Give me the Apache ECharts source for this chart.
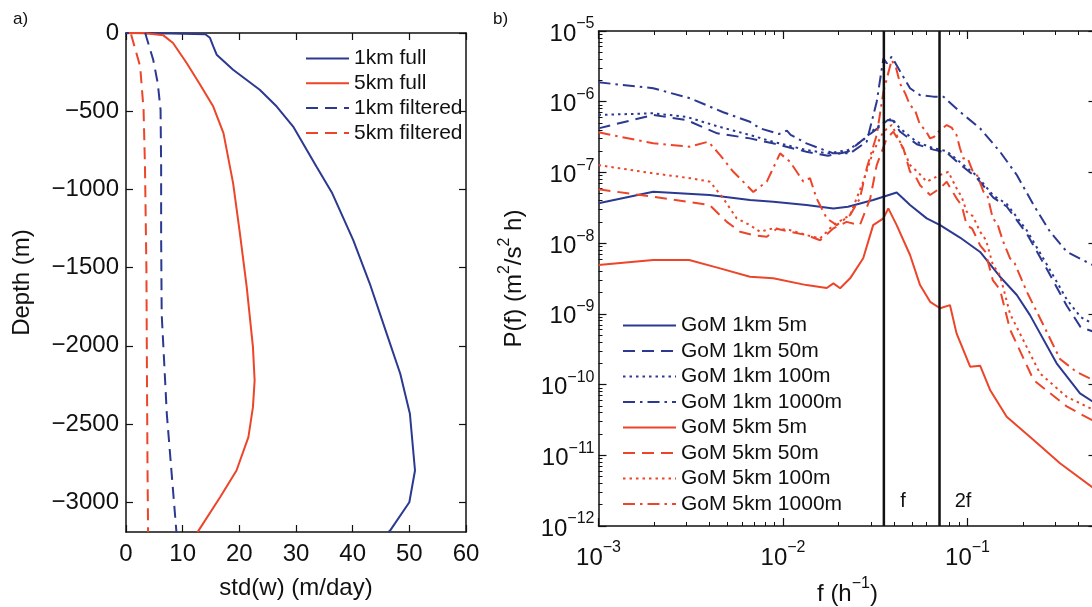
<!DOCTYPE html>
<html><head><meta charset="utf-8">
<script src="https://cdn.jsdelivr.net/npm/echarts@6/dist/echarts.min.js"></script>
<style>html,body{margin:0;padding:0;background:#fff}#c{width:1092px;height:607px}</style>
</head><body><div id="c"></div>
<script>
// ---------- Panel a: std(w) profiles, [std(w) m/day, depth m] ----------
const full1km = [[0,0],[8,-3],[14.0,-8],[14.8,-30],[15.4,-86],[16.0,-139],[18.9,-235],[23.6,-363],[26.6,-470],[29.5,-598],[33.6,-854],[36.4,-1025],[40.1,-1324],[43.0,-1600],[46.0,-1922],[48.4,-2178],[50.1,-2434],[51.0,-2797],[50.0,-3000],[46.6,-3181],[46.3,-3190]];
const full5km = [[0.5,0],[3.1,0],[6.6,-15],[8.3,-64],[10.7,-192],[12.9,-320],[15.4,-470],[17.2,-640],[18.9,-960],[20.1,-1281],[21.3,-1623],[22.4,-2007],[22.7,-2221],[22.4,-2392],[21.6,-2584],[19.5,-2797],[16.6,-2968],[12.8,-3181],[12.6,-3190]];
const filt1km = [[3.4,0],[3.65,-32],[4.8,-171],[5.6,-320],[6.1,-491],[6.2,-854],[6.2,-1300],[6.3,-1800],[6.6,-2007],[7.2,-2434],[8.06,-2818],[8.9,-3190]];
const filt5km = [[0.9,-10],[1.0,-22],[2.5,-214],[3.1,-491],[3.35,-854],[3.6,-1500],[3.7,-2200],[3.8,-2800],[3.9,-3190]];
const depthTicks = [0,-500,-1000,-1500,-2000,-2500,-3000];

// ---------- Panel b: spectra, [f (1/h), P(f)] ----------
const gom1km5m = [[0.001,3.66e-8],[0.00198,5.33e-8],[0.004,4.79e-8],[0.00662,4.07e-8],[0.00885,3.85e-8],[0.0134,3.46e-8],[0.01875,3.1e-8],[0.0225,3.27e-8],[0.0308,4.07e-8],[0.035,4.53e-8],[0.0413,5.2e-8],[0.046,4.0e-8],[0.0488,3.46e-8],[0.0601,2.24e-8],[0.071,1.8e-8],[0.091,1.2e-8],[0.117,7.5e-9],[0.15,3.35e-9],[0.185,1.85e-9],[0.218,9.6e-10],[0.304,2.0e-10],[0.407,7.5e-11],[0.5,5.3e-11]];
const gom1km50m = [[0.001,4.2e-7],[0.00198,6.5e-7],[0.003,5.5e-7],[0.0044,3.57e-7],[0.00662,3.03e-7],[0.0088,2.58e-7],[0.0134,1.96e-7],[0.0175,1.72e-7],[0.0225,1.96e-7],[0.0284,3.2e-7],[0.0325,4.2e-7],[0.037,5.5e-7],[0.0395,5.4e-7],[0.043,3.8e-7],[0.0531,2.5e-7],[0.0653,2.1e-7],[0.0771,1.9e-7],[0.091,1.3e-7],[0.112,8.4e-8],[0.138,4.4e-8],[0.163,3.3e-8],[0.21,1.35e-8],[0.269,4.3e-9],[0.345,1.3e-9],[0.41,6.5e-10],[0.5,5.4e-10]];
const gom1km100m = [[0.001,6.5e-7],[0.00198,6.86e-7],[0.003,6.1e-7],[0.0045,4.43e-7],[0.00662,3.38e-7],[0.0088,2.72e-7],[0.0134,2.07e-7],[0.0175,1.86e-7],[0.0225,2.07e-7],[0.0272,2.87e-7],[0.0315,4.2e-7],[0.035,5.0e-7],[0.0388,5.8e-7],[0.043,4.2e-7],[0.0531,2.7e-7],[0.0653,2.2e-7],[0.0771,2.0e-7],[0.091,1.4e-7],[0.112,9.0e-8],[0.138,4.7e-8],[0.163,3.6e-8],[0.21,1.5e-8],[0.269,5.0e-9],[0.345,1.6e-9],[0.41,9.0e-10],[0.5,6.8e-10]];
const gom1km1000m = [[0.001,1.88e-6],[0.00198,1.55e-6],[0.00313,1.12e-6],[0.00474,7.1e-7],[0.00662,5.2e-7],[0.0075,4.2e-7],[0.0095,3.5e-7],[0.0105,3.9e-7],[0.011,3.4e-7],[0.0134,2.58e-7],[0.0165,2.1e-7],[0.01875,1.86e-7],[0.0231,1.86e-7],[0.0284,2.72e-7],[0.0322,1.0e-6],[0.035,4.11e-6],[0.0365,3.49e-6],[0.0388,4.33e-6],[0.0431,2.7e-6],[0.0488,1.55e-6],[0.0553,1.24e-6],[0.0653,1.18e-6],[0.074,1.18e-6],[0.091,7.2e-7],[0.117,4.2e-7],[0.15,1.96e-7],[0.185,9.2e-8],[0.228,3.46e-8],[0.28,1.45e-8],[0.345,7.55e-9],[0.5,4.6e-9]];
const gom5km5m = [[0.001,4.9e-9],[0.00198,5.77e-9],[0.0031,5.77e-9],[0.00456,4.4e-9],[0.00662,3.35e-9],[0.00885,3.18e-9],[0.0134,2.55e-9],[0.01726,2.32e-9],[0.01875,2.7e-9],[0.0204,2.3e-9],[0.0231,3.18e-9],[0.0272,6.1e-9],[0.0308,1.8e-8],[0.035,2.24e-8],[0.0372,3.1e-8],[0.0413,1.8e-8],[0.0488,6.8e-9],[0.0553,2.55e-9],[0.0627,1.48e-9],[0.071,1.2e-9],[0.0803,1.33e-9],[0.0872,5.3e-10],[0.1033,1.79e-10],[0.117,1.85e-10],[0.1325,8.4e-11],[0.163,3.5e-11],[0.228,1.64e-11],[0.317,7.7e-12],[0.5,3.2e-12]];
const gom5km50m = [[0.001,5.77e-8],[0.00198,4.53e-8],[0.004,3.46e-8],[0.00496,2.0e-8],[0.00585,1.45e-8],[0.0069,1.3e-8],[0.00817,1.23e-8],[0.00925,1.6e-8],[0.0109,1.45e-8],[0.0134,1.3e-8],[0.0159,1.1e-8],[0.01875,1.62e-8],[0.0221,2.0e-8],[0.0261,1.8e-8],[0.0297,4.3e-8],[0.0322,1.27e-7],[0.0365,3.03e-7],[0.0396,3.77e-7],[0.0449,2.19e-7],[0.0488,1.02e-7],[0.052,9.0e-8],[0.0553,6.6e-8],[0.0627,4.8e-8],[0.071,5.96e-8],[0.0771,7.4e-8],[0.0872,4.3e-8],[0.093,3.4e-8],[0.099,1.8e-8],[0.106,1.6e-8],[0.117,9.3e-9],[0.125,7.5e-9],[0.137,3.0e-9],[0.15,2.2e-9],[0.17,6.0e-10],[0.228,1.16e-10],[0.345,4.9e-11],[0.5,2.9e-11]];
const gom5km100m = [[0.001,1.27e-7],[0.00198,9.7e-8],[0.00313,8.3e-8],[0.00402,7.4e-8],[0.00474,4.3e-8],[0.00561,2.24e-8],[0.00662,1.8e-8],[0.0075,1.45e-8],[0.00885,1.62e-8],[0.0109,1.53e-8],[0.0134,1.3e-8],[0.0159,1.17e-8],[0.01875,1.8e-8],[0.0231,2.5e-8],[0.0272,7.4e-8],[0.0308,1.96e-7],[0.035,3.77e-7],[0.0388,4.68e-7],[0.0431,2.7e-7],[0.0488,1.27e-7],[0.054,1.0e-7],[0.0601,7.4e-8],[0.071,9.2e-8],[0.0787,1.02e-7],[0.0872,5.96e-8],[0.093,4.5e-8],[0.099,2.78e-8],[0.107,2.4e-8],[0.117,1.45e-8],[0.126,1.1e-8],[0.137,5.0e-9],[0.15,3.5e-9],[0.17,1.0e-9],[0.247,1.44e-10],[0.345,6.7e-11],[0.5,4.2e-11]];
const gom5km1000m = [[0.001,3.69e-7],[0.00198,2.58e-7],[0.0031,2.31e-7],[0.00394,2.72e-7],[0.00456,1.76e-7],[0.00538,1.02e-7],[0.00635,6.6e-8],[0.0069,5.3e-8],[0.00817,7.4e-8],[0.00964,1.86e-7],[0.0109,1.42e-7],[0.0129,7.4e-8],[0.014,8.3e-8],[0.0152,4.3e-8],[0.01726,2.24e-8],[0.01954,1.8e-8],[0.0231,2.5e-8],[0.0261,4.3e-8],[0.0284,1.14e-7],[0.0322,3.38e-7],[0.035,1.38e-6],[0.0388,3.89e-6],[0.041,3.0e-6],[0.0431,1.8e-6],[0.046,1.3e-6],[0.0488,8.98e-7],[0.052,7.5e-7],[0.0553,4.68e-7],[0.059,4.0e-7],[0.0627,3.03e-7],[0.066,3.2e-7],[0.0695,3.77e-7],[0.0771,4.68e-7],[0.082,4.3e-7],[0.0872,3.38e-7],[0.091,2.2e-7],[0.0948,1.58e-7],[0.1,1.6e-7],[0.107,1.02e-7],[0.113,9.0e-8],[0.122,5.33e-8],[0.128,4.8e-8],[0.137,2.24e-8],[0.145,1.9e-8],[0.155,1.1e-8],[0.17,6.1e-9],[0.18,5.2e-9],[0.2095,2.06e-9],[0.258,6.9e-10],[0.317,2.3e-10],[0.391,1.5e-10],[0.5,1.1e-10]];
const inertialLines = [0.0352, 0.0705];
const inertialLabels = [['f', 0.0447, 2.2e-12], ['2f', 0.0946, 2.2e-12]];
const xLogTickLabels = {'-3':'−3','-2':'−2','-1':'−1'};
const yLogTickLabels = {'-12':'−12','-11':'−11','-10':'−10','-9':'−9','-8':'−8','-7':'−7','-6':'−6','-5':'−5'};

const BLUE = '#2b3990', RED = '#ec4529';
const FONT = '"Liberation Sans", Arial, Helvetica, sans-serif';
const DASH = [12, 7], DOT = [2.5, 4], DASHDOT = [12, 5, 2.5, 5];

function ln(name, data, color, type, xi, yi) {
  return {name, type:'line', data, xAxisIndex:xi, yAxisIndex:yi, symbol:'none', showSymbol:false,
    lineStyle:{color, width:2, type}, itemStyle:{color}, silent:true, z:3};
}
function logLabel(table) {
  return v => { const e = Math.round(Math.log10(v)); const s = table[String(e)]; return s ? '{b|10}{s|' + s + '}' : ''; };
}
const supRich = {
  b:{fontSize:24, fontFamily:FONT, color:'#111', lineHeight:30, verticalAlign:'bottom'},
  s:{fontSize:16, fontFamily:FONT, color:'#111', lineHeight:10, verticalAlign:'top'}
};
const axLine = {show:true, onZero:false, lineStyle:{color:'#111', width:1.5}};
const tickIn = (len) => ({show:true, inside:true, length:len, lineStyle:{color:'#111', width:1.2}});
const minorIn = {show:true, splitNumber:9, length:4, lineStyle:{color:'#111', width:1}};
const legendText = {fontSize:21, lineHeight:21, fontFamily:FONT, color:'#111'};
const noSymbol = {color:'rgba(0,0,0,0)', borderColor:'rgba(0,0,0,0)', borderWidth:0, opacity:0};

const chart = echarts.init(document.getElementById('c'), null, {renderer:'canvas'});
const option = {
  backgroundColor:'#ffffff',
  animation:false,
  title:[
    {text:'a)', left:8, top:6, textStyle:{fontSize:17, fontWeight:'normal', fontFamily:FONT, color:'#111'}},
    {text:'b)', left:488, top:6, textStyle:{fontSize:17, fontWeight:'normal', fontFamily:FONT, color:'#111'}}
  ],
  grid:[
    {left:126, top:33, width:340, height:499, outerBoundsMode:'none', containLabel:false},
    {left:598.5, top:31, width:498, height:495, outerBoundsMode:'none', containLabel:false}
  ],
  legend:[
    {data:['1km full','5km full','1km filtered','5km filtered'], orient:'vertical', left:300, top:43,
     itemWidth:43, itemHeight:14, itemGap:3.8, itemStyle:noSymbol, textStyle:legendText},
    {data:['GoM 1km 5m','GoM 1km 50m','GoM 1km 100m','GoM 1km 1000m','GoM 5km 5m','GoM 5km 50m','GoM 5km 100m','GoM 5km 1000m'],
     orient:'vertical', left:617, top:310, itemWidth:53, itemHeight:14, itemGap:4.5, itemStyle:noSymbol, textStyle:legendText}
  ],
  xAxis:[
    {gridIndex:0, type:'value', min:0, max:60, interval:10, position:'bottom', axisLine:axLine, axisTick:tickIn(7),
     splitLine:{show:false}, axisLabel:{fontSize:24, fontFamily:FONT, color:'#111', margin:10},
     name:'std(w) (m/day)', nameLocation:'middle', nameGap:44, nameTextStyle:{fontSize:24, fontFamily:FONT, color:'#111'}},
    {gridIndex:0, type:'value', min:0, max:60, interval:10, position:'top', axisLine:axLine, axisTick:tickIn(7),
     splitLine:{show:false}, axisLabel:{show:false}},
    {gridIndex:1, type:'log', logBase:10, min:0.001, max:0.5, splitNumber:3, position:'bottom', axisLine:axLine, axisTick:tickIn(8),
     minorTick:minorIn, splitLine:{show:false}, minorSplitLine:{show:false},
     axisLabel:{formatter:logLabel(xLogTickLabels), rich:supRich, margin:14, showMaxLabel:false},
     name:'{n|f (h}{s|−1}{n|)}', nameLocation:'middle', nameGap:50,
     nameTextStyle:{rich:{n:{fontSize:24, fontFamily:FONT, color:'#111', lineHeight:30, verticalAlign:'bottom'}, s:{fontSize:16, fontFamily:FONT, color:'#111', lineHeight:10, verticalAlign:'top'}}}},
    {gridIndex:1, type:'log', logBase:10, min:0.001, max:0.5, splitNumber:3, position:'top', axisLine:axLine, axisTick:tickIn(8),
     minorTick:minorIn, splitLine:{show:false}, axisLabel:{show:false}}
  ],
  yAxis:[
    {gridIndex:0, type:'value', min:-3190, max:0, position:'left', axisLine:axLine,
     axisTick:Object.assign(tickIn(7), {customValues:depthTicks}), splitLine:{show:false},
     axisLabel:{customValues:depthTicks, fontSize:24, fontFamily:FONT, color:'#111', margin:7, formatter:v => String(v).replace('-', '\u2212')},
     name:'Depth (m)', nameLocation:'middle', nameGap:92, nameRotate:90, nameTextStyle:{fontSize:24, fontFamily:FONT, color:'#111'}},
    {gridIndex:0, type:'value', min:-3190, max:0, position:'right', axisLine:axLine,
     axisTick:Object.assign(tickIn(7), {customValues:depthTicks}), splitLine:{show:false}, axisLabel:{show:false, customValues:depthTicks}},
    {gridIndex:1, type:'log', logBase:10, min:1e-12, max:1e-5, splitNumber:7, position:'left', axisLine:axLine, axisTick:tickIn(8),
     minorTick:minorIn, splitLine:{show:false}, minorSplitLine:{show:false},
     axisLabel:{formatter:logLabel(yLogTickLabels), rich:supRich, margin:4},
     name:'{n|P(f) (m}{s|2}{n|/s}{s|2}{n| h)}', nameLocation:'middle', nameGap:72, nameRotate:90,
     nameTextStyle:{rich:{n:{fontSize:24, fontFamily:FONT, color:'#111', lineHeight:30, verticalAlign:'bottom'}, s:{fontSize:16, fontFamily:FONT, color:'#111', lineHeight:10, verticalAlign:'top'}}}},
    {gridIndex:1, type:'log', logBase:10, min:1e-12, max:1e-5, splitNumber:7, position:'right', axisLine:axLine, axisTick:tickIn(8),
     minorTick:minorIn, splitLine:{show:false}, axisLabel:{show:false}}
  ],
  series:[
    ln('1km full', full1km, BLUE, 'solid', 0, 0),
    ln('5km full', full5km, RED, 'solid', 0, 0),
    ln('1km filtered', filt1km, BLUE, DASH, 0, 0),
    ln('5km filtered', filt5km, RED, DASH, 0, 0),
    ln('GoM 1km 5m', gom1km5m, BLUE, 'solid', 2, 2),
    ln('GoM 1km 50m', gom1km50m, BLUE, DASH, 2, 2),
    ln('GoM 1km 100m', gom1km100m, BLUE, DOT, 2, 2),
    ln('GoM 1km 1000m', gom1km1000m, BLUE, DASHDOT, 2, 2),
    ln('GoM 5km 5m', gom5km5m, RED, 'solid', 2, 2),
    ln('GoM 5km 50m', gom5km50m, RED, DASH, 2, 2),
    ln('GoM 5km 100m', gom5km100m, RED, DOT, 2, 2),
    ln('GoM 5km 1000m', gom5km1000m, RED, DASHDOT, 2, 2),
    {type:'line', xAxisIndex:2, yAxisIndex:2, symbol:'none', silent:true, z:4,
     data:[[inertialLines[0],1e-12],[inertialLines[0],1e-5]], lineStyle:{color:'#111', width:2.5}},
    {type:'line', xAxisIndex:2, yAxisIndex:2, symbol:'none', silent:true, z:4,
     data:[[inertialLines[1],1e-12],[inertialLines[1],1e-5]], lineStyle:{color:'#111', width:2.5}},
    {type:'scatter', xAxisIndex:2, yAxisIndex:2, symbolSize:1, itemStyle:{color:'rgba(0,0,0,0)', opacity:1}, silent:true, z:5,
     data:inertialLabels.map(d => ({value:[d[1], d[2]], label:{show:true, formatter:d[0], position:'inside',
       fontSize:20, fontFamily:FONT, color:'#111', opacity:1, textBorderWidth:0}}))}
  ]
};
chart.setOption(option);
</script></body></html>
